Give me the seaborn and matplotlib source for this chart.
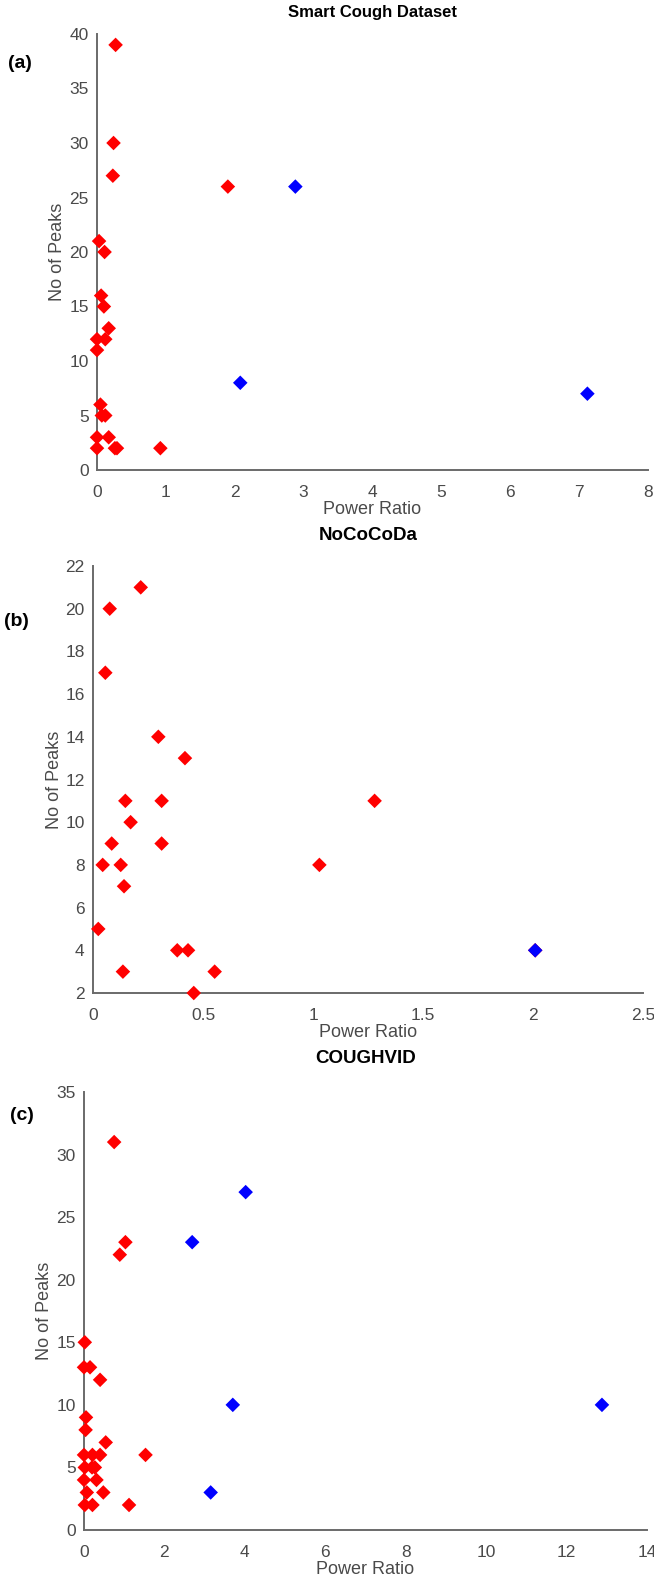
import pandas as pd
import matplotlib
matplotlib.use("Agg")
import matplotlib.pyplot as plt
import seaborn as sns

# Panel (a) - Smart Cough Dataset
a_red_x = [0.27, 0.24, 0.23, 1.90, 0.03, 0.11, 0.06, 0.10, 0.17, 0.00, 0.12, 0.00,
           0.05, 0.07, 0.12, 0.00, 0.17, 0.00, 0.26, 0.29, 0.92]
a_red_y = [39, 30, 27, 26, 21, 20, 16, 15, 13, 12, 12, 11, 6, 5, 5, 3, 3, 2, 2, 2, 2]
a_blue_x = [2.88, 2.08, 7.12]
a_blue_y = [26, 8, 7]

# Panel (b) - NoCoCoDa
b_red_x = [0.217, 0.076, 0.056, 0.297, 0.418, 0.147, 0.312, 0.171, 0.085, 0.312, 0.044,
           0.126, 1.029, 0.141, 0.024, 0.383, 0.432, 0.136, 0.553, 0.458, 1.28, 2.01]
b_red_y = [21, 20, 17, 14, 13, 11, 11, 10, 9, 9, 8, 8, 8, 7, 5, 4, 4, 3, 3, 2, 11, 4]
b_blue_x = [2.01]
b_blue_y = [4]

# Panel (c) - COUGHVID
c_red_x = [0.75, 1.03, 0.89, 0.02, 0.00, 0.15, 0.40, 0.05, 0.04, 0.54, 0.00, 0.21,
           0.40, 1.53, 0.02, 0.20, 0.27, 0.00, 0.31, 0.07, 0.48, 0.02, 0.21, 1.12]
c_red_y = [31, 23, 22, 15, 13, 13, 12, 9, 8, 7, 6, 6, 6, 6, 5, 5, 5, 4, 4, 3, 3, 2, 2, 2]
c_blue_x = [2.69, 4.02, 3.70, 12.88, 3.15]
c_blue_y = [23, 27, 10, 10, 3]

sns.set_style("white")
plt.rcParams['font.family'] = ['Liberation Sans', 'DejaVu Sans']

grey = '#6a6a6a'
txt = '#4a4a4a'

fig = plt.figure(figsize=(6.54, 15.82), dpi=100)
W, H = 654, 1582


def make_ax(left, right, top, bottom):
    return fig.add_axes([left / W, 1 - bottom / H, (right - left) / W, (bottom - top) / H])


panels = [
    dict(box=(97, 648, 34, 470), rx=a_red_x, ry=a_red_y, bx=a_blue_x, by=a_blue_y,
         xlim=(0, 8), ylim=(0, 40), xt=list(range(0, 9)), yt=list(range(0, 41, 5)),
         xtl=None, title="Smart Cough Dataset", tsize=12, tpad=12, tag="(a)", tagpos=(20, 63)),
    dict(box=(93, 643, 566, 993), rx=b_red_x, ry=b_red_y, bx=b_blue_x, by=b_blue_y,
         xlim=(0, 2.5), ylim=(2, 22), xt=[0, 0.5, 1, 1.5, 2, 2.5], yt=list(range(2, 23, 2)),
         xtl=["0", "0.5", "1", "1.5", "2", "2.5"], title="NoCoCoDa", tsize=13.5, tpad=19,
         tag="(b)", tagpos=(16, 622)),
    dict(box=(84, 647, 1092, 1530), rx=c_red_x, ry=c_red_y, bx=c_blue_x, by=c_blue_y,
         xlim=(0, 14), ylim=(0, 35), xt=list(range(0, 15, 2)), yt=list(range(0, 36, 5)),
         xtl=None, title="COUGHVID", tsize=13.5, tpad=21, tag="(c)", tagpos=(22, 1116)),
]

for p in panels:
    ax = make_ax(*p['box'])
    df = pd.DataFrame({
        'power': p['rx'] + p['bx'],
        'peaks': p['ry'] + p['by'],
        'group': ['r'] * len(p['rx']) + ['b'] * len(p['bx']),
    })
    sns.scatterplot(data=df, x='power', y='peaks', hue='group',
                    palette={'r': '#ff0000', 'b': '#0000ff'}, marker='D', s=55,
                    edgecolor=None, linewidth=0, legend=False, clip_on=False, ax=ax, zorder=5)
    ax.set_xlim(*p['xlim'])
    ax.set_ylim(*p['ylim'])
    ax.set_xticks(p['xt'])
    if p['xtl']:
        ax.set_xticklabels(p['xtl'])
    ax.set_yticks(p['yt'])
    for s in ['top', 'right']:
        ax.spines[s].set_visible(False)
    for s in ['left', 'bottom']:
        ax.spines[s].set_color(grey)
        ax.spines[s].set_linewidth(1.4)
    ax.tick_params(axis='both', direction='in', length=4, width=1.2, color=grey,
                   labelsize=12.5, labelcolor=txt)
    ax.tick_params(axis='x', pad=11)
    ax.tick_params(axis='y', pad=6)
    ax.set_xlabel("Power Ratio", fontsize=13, color=txt, labelpad=0.5)
    ax.set_ylabel("No of Peaks", fontsize=13, color=txt, labelpad=2)
    ax.set_title(p['title'], fontsize=p['tsize'], fontweight='bold', color='black', pad=p['tpad'])
    fig.text(p['tagpos'][0] / W, 1 - p['tagpos'][1] / H, p['tag'], fontsize=14,
             fontweight='bold', ha='center', va='center', color='black')

fig.savefig("out.png", dpi=100)
